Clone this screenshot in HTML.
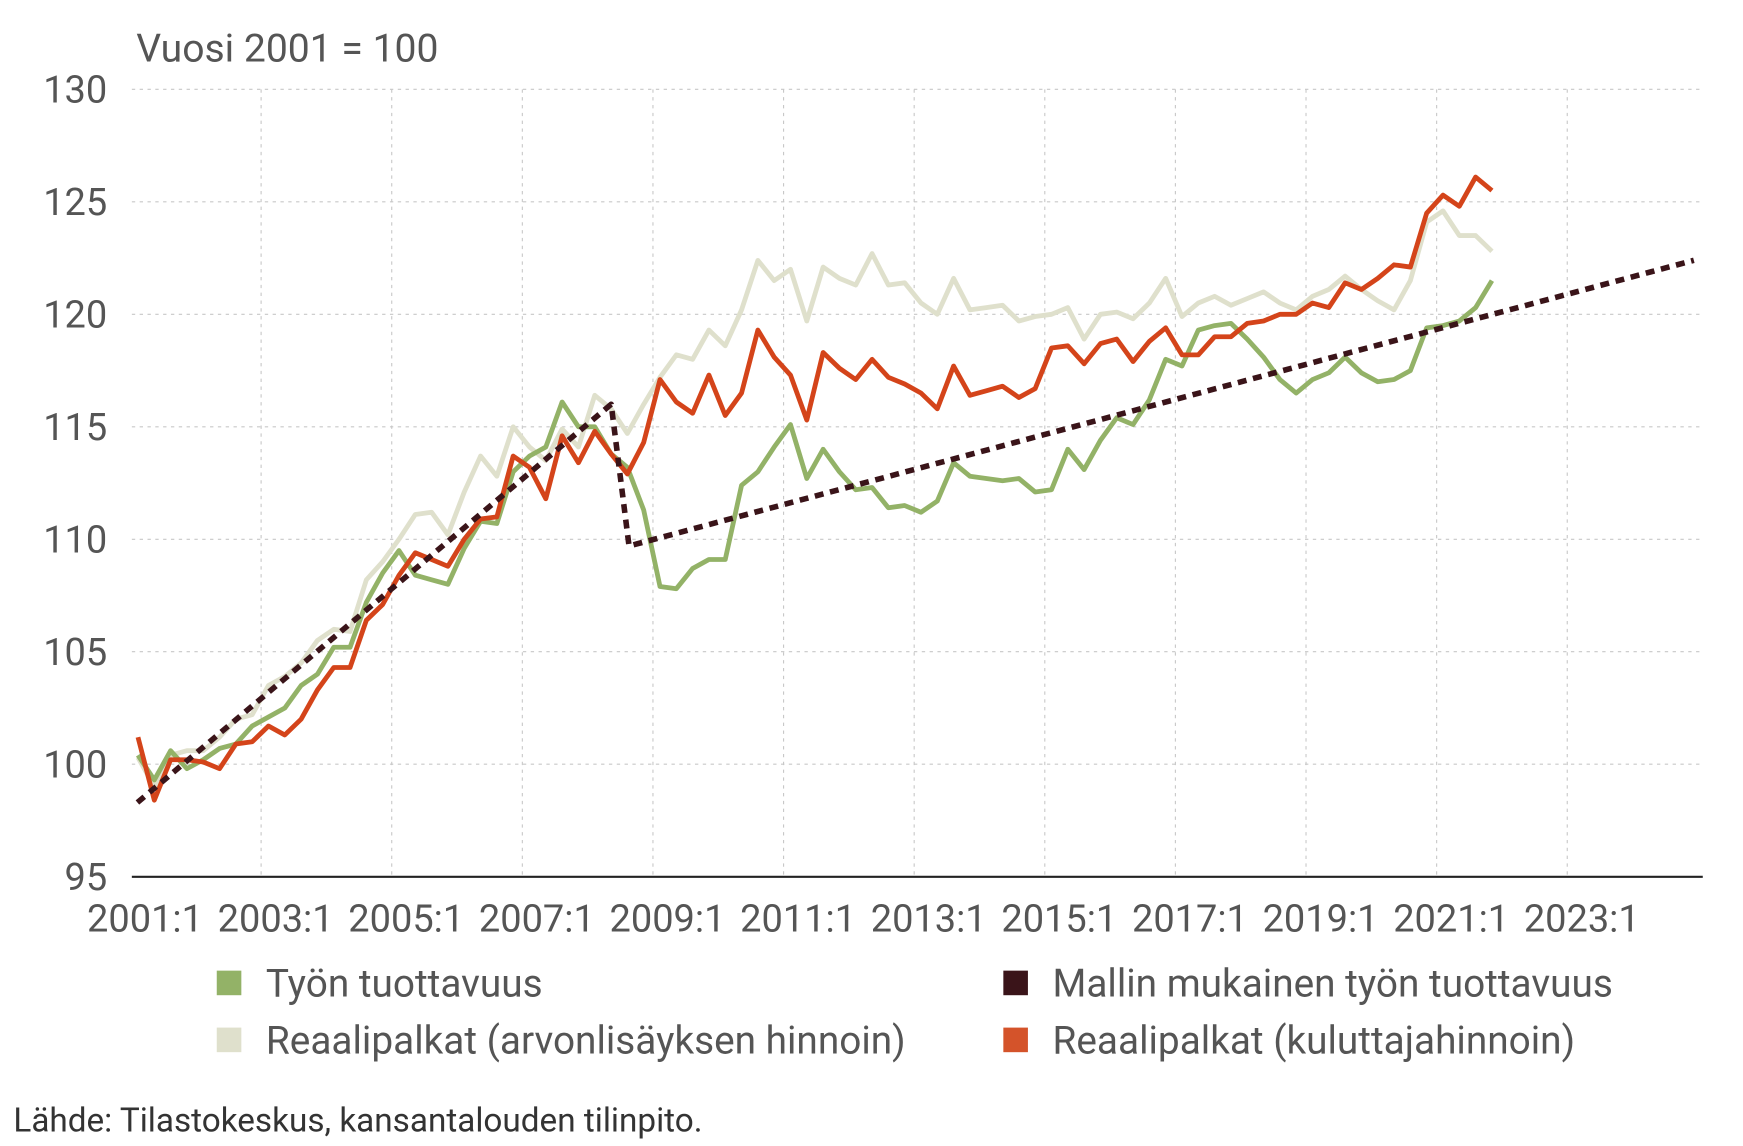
<!DOCTYPE html>
<html><head><meta charset="utf-8"><style>
html,body{margin:0;padding:0;background:#fff;}
svg{display:block;font-family:"Roboto","Liberation Sans",sans-serif;}
</style></head><body>
<svg id="s" width="1743" height="1146" viewBox="0 0 1560 1026" preserveAspectRatio="none">
<text x="122" y="55" font-size="35" fill="#555">Vuosi 2001 = 100</text>
<g id="grid" stroke="#c8c8c8" stroke-width="1" stroke-dasharray="3 4"></g>
<g id="ylab" font-size="34" fill="#555" text-anchor="end"></g>
<g id="xlab" font-size="34" fill="#555" text-anchor="middle"></g>
<line x1="118" y1="785" x2="1524" y2="785" stroke="#222" stroke-width="2"/>
<g id="series" fill="none" stroke-linejoin="round"></g>
<g font-size="34.7" fill="#555">
<rect x="194" y="869" width="22" height="22" fill="#93b267"/><text x="238" y="892">Työn tuottavuus</text>
<rect x="898" y="869" width="22" height="22" fill="#3a1419"/><text x="942" y="892">Mallin mukainen työn tuottavuus</text>
<rect x="194" y="920" width="22" height="22" fill="#dfe0cc"/><text x="238" y="943">Reaalipalkat (arvonlisäyksen hinnoin)</text>
<rect x="898" y="920" width="22" height="22" fill="#d4532a"/><text x="942" y="943">Reaalipalkat (kuluttajahinnoin)</text>
</g>
<text x="12" y="1013" font-size="29.8" fill="#333">Lähde: Tilastokeskus, kansantalouden tilinpito.</text>
</svg>
<script>
var NS="http://www.w3.org/2000/svg";
function Y(v){return 80+(130-v)*20.14;}
function X(i){return 123.5+14.6*i;}
function el(p,t,a,txt){var e=document.createElementNS(NS,t);for(var k in a)e.setAttribute(k,a[k]);if(txt)e.textContent=txt;document.getElementById(p).appendChild(e);}
for(var v=95;v<=130;v+=5){if(v>95)el("grid","line",{x1:118,x2:1524,y1:Y(v),y2:Y(v)});el("ylab","text",{x:96,y:Y(v)+12},String(v));}
var yrs=[2001,2003,2005,2007,2009,2011,2013,2015,2017,2019,2021,2023];
yrs.forEach(function(y,k){var gx=116.8+116.9*k;if(k>0)el("grid","line",{x1:gx,x2:gx,y1:80,y2:785});el("xlab","text",{x:gx+13,y:834},y+":1");});
var green=[100.4,99.3,100.6,99.8,100.2,100.7,100.9,101.7,102.1,102.5,103.5,104.0,105.2,105.2,107.2,108.5,109.5,108.4,108.2,108.0,109.6,110.8,110.7,113.0,113.7,114.1,116.1,115.0,115.0,113.8,113.2,111.3,107.9,107.8,108.7,109.1,109.1,112.4,113.0,114.1,115.1,112.7,114.0,113.0,112.2,112.3,111.4,111.5,111.2,111.7,113.4,112.8,112.7,112.6,112.7,112.1,112.2,114.0,113.1,114.4,115.4,115.1,116.2,118.0,117.7,119.3,119.5,119.6,118.9,118.1,117.1,116.5,117.1,117.4,118.1,117.4,117.0,117.1,117.5,119.4,119.5,119.7,120.3,121.5];
var light=[100.3,99.0,100.4,100.6,100.6,101.2,102.0,102.2,103.5,103.9,104.5,105.5,106.0,105.9,108.2,109.0,110.0,111.1,111.2,110.2,112.1,113.7,112.8,115.0,114.1,113.5,114.9,114.1,116.4,115.8,114.7,116.0,117.2,118.2,118.0,119.3,118.6,120.2,122.4,121.5,122.0,119.7,122.1,121.6,121.3,122.7,121.3,121.4,120.5,120.0,121.6,120.2,120.3,120.4,119.7,119.9,120.0,120.3,118.9,120.0,120.1,119.8,120.5,121.6,119.9,120.5,120.8,120.4,120.7,121.0,120.5,120.2,120.8,121.1,121.7,121.1,120.6,120.2,121.5,124.1,124.6,123.5,123.5,122.8];
var red=[101.2,98.4,100.2,100.2,100.1,99.8,100.9,101.0,101.7,101.3,102.0,103.3,104.3,104.3,106.4,107.1,108.4,109.4,109.1,108.8,110.0,110.9,111.0,113.7,113.2,111.8,114.6,113.4,114.8,113.8,112.9,114.3,117.1,116.1,115.6,117.3,115.5,116.5,119.3,118.1,117.3,115.3,118.3,117.6,117.1,118.0,117.2,116.9,116.5,115.8,117.7,116.4,116.6,116.8,116.3,116.7,118.5,118.6,117.8,118.7,118.9,117.9,118.8,119.4,118.2,118.2,119.0,119.0,119.6,119.7,120.0,120.0,120.5,120.3,121.4,121.1,121.6,122.2,122.1,124.5,125.3,124.8,126.1,125.5];
function pts(a){return a.map(function(v,i){return X(i).toFixed(1)+","+Y(v).toFixed(1);}).join(" ");}
el("series","polyline",{points:pts(light),stroke:"#dfe0cc","stroke-width":4.3});
el("series","polyline",{points:pts(green),stroke:"#93b267","stroke-width":4.3});
el("series","polyline",{points:pts(red),stroke:"#d4441a","stroke-width":4.3});
el("series","polyline",{points:"123,"+Y(98.3)+" 547,"+Y(116)+" 563,"+Y(109.7)+" 1516,"+Y(122.4),stroke:"#3a1419","stroke-width":5,"stroke-dasharray":"8 6"});
</script>
</body></html>
